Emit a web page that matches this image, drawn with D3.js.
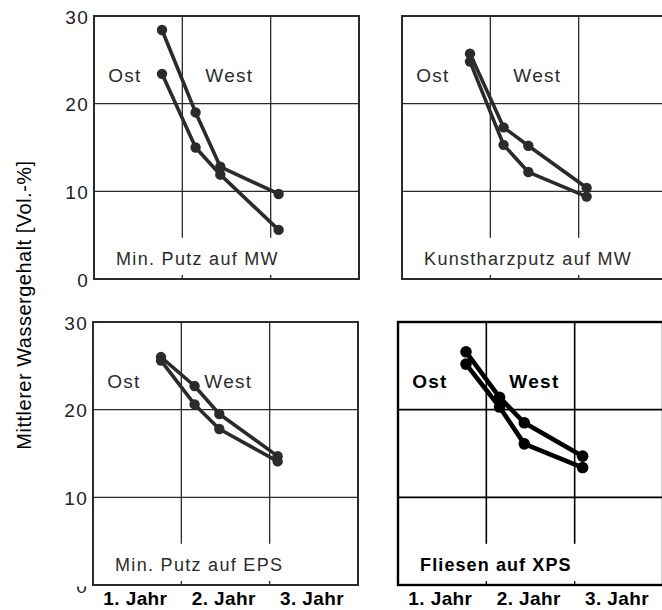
<!DOCTYPE html>
<html>
<head>
<meta charset="utf-8">
<script src="https://cdn.jsdelivr.net/npm/d3@7"></script>
<style>
  body { margin: 0; background: #fff; }
  svg { display: block; font-family: "Liberation Sans", Arial, sans-serif; }
</style>
</head>
<body>
<div class="plot"></div>
<script>
// measuring times (years after construction)
var years = [0.77, 1.15, 1.43, 2.09];

var titles = ["Min. Putz auf MW", "Kunstharzputz auf MW", "Min. Putz auf EPS", "Fliesen auf XPS"];

// upper / lower curve of every panel [Vol.-%]
var upperVals = [
  [28.4, 19.0, 12.8, 9.7],
  [25.7, 17.3, 15.2, 10.4],
  [26.0, 22.7, 19.5, 14.7],
  [26.6, 21.4, 18.5, 14.7]
];
var lowerVals = [
  [23.4, 15.0, 11.9, 5.6],
  [24.8, 15.3, 12.2, 9.4],
  [25.6, 20.6, 17.8, 14.1],
  [25.2, 20.3, 16.1, 13.4]
];

var yTicks = [0, 10, 20, 30];
var xLabels = ["1. Jahr", "2. Jahr", "3. Jahr"];
var xLabelPos = [0.48, 1.48, 2.48];
var sideLabels = ["Ost", "West"];

function plotPanels() {

  var width = 662;
  var height = 610;
  var pw = 265, ph = 263;

  // panel corners (scan is slightly skewed)
  var corners = [[94, 16], [402, 16], [93, 322], [398, 322]];

  var svg = d3.select(".plot").append("svg")
    .attr("width", width)
    .attr("height", height);

  // only the lower half of the bottom "0" survives in the scan
  svg.append("defs").append("clipPath")
    .attr("id", "zeroclip")
    .append("rect")
    .attr("x", -92).attr("y", ph + 1.5).attr("width", 92).attr("height", 10);

  var x = d3.scaleLinear().domain([0, 3]).range([0, pw]);
  var y = d3.scaleLinear().domain([0, 30]).range([ph, 0]);

  var line = d3.line()
    .x(function(d) { return x(d[0]); })
    .y(function(d) { return y(d[1]); });

  titles.forEach(function(title, i) {
    var bold = (i == 3);
    var ink = bold ? "#000" : "#2b2b2b";
    var g = svg.append("g")
      .attr("transform", "translate(" + corners[i] + ")");

    // horizontal grid
    g.selectAll(".hgrid")
      .data([10, 20])
      .join("line")
      .attr("x1", 0).attr("x2", pw)
      .attr("y1", d => y(d)).attr("y2", d => y(d))
      .attr("stroke", ink)
      .attr("stroke-width", bold ? 1.6 : 1.3);

    // vertical grid stops above the panel title
    g.selectAll(".vgrid")
      .data([1, 2])
      .join("line")
      .attr("x1", d => x(d)).attr("x2", d => x(d))
      .attr("y1", y(30)).attr("y2", y(4.7))
      .attr("stroke", ink)
      .attr("stroke-width", bold ? 1.6 : 1.3);

    g.selectAll(".btick")
      .data([1, 2])
      .join("line")
      .attr("x1", d => x(d)).attr("x2", d => x(d))
      .attr("y1", y(0)).attr("y2", y(0) - 4)
      .attr("stroke", ink)
      .attr("stroke-width", 1.3);

    g.append("rect")
      .attr("width", pw).attr("height", ph)
      .attr("fill", "none")
      .attr("stroke", ink)
      .attr("stroke-width", bold ? 2.4 : 2);

    [upperVals[i], lowerVals[i]].forEach(function(vals) {
      var pts = years.map((t, k) => [t, vals[k]]);
      g.append("path")
        .attr("d", line(pts))
        .attr("fill", "none")
        .attr("stroke", ink)
        .attr("stroke-width", bold ? 4.6 : 3.6)
        .attr("stroke-linejoin", "round");
      g.selectAll(null)
        .data(pts)
        .join("circle")
        .attr("cx", d => x(d[0]))
        .attr("cy", d => y(d[1]))
        .attr("r", bold ? 5.8 : 5.2)
        .attr("fill", ink);
    });

    // Ost / West
    g.selectAll(".side")
      .data(sideLabels)
      .join("text")
      .attr("x", (d, k) => k == 0 ? x(0.16) : x(1.26))
      .attr("y", y(22.5))
      .attr("fill", ink)
      .style("font-size", "19px")
      .style("letter-spacing", "1.3px")
      .style("font-weight", bold ? "bold" : "normal")
      .text(d => d);

    g.append("text")
      .attr("x", x(0.25))
      .attr("y", y(1.55))
      .attr("fill", ink)
      .style("font-size", "18px")
      .style("letter-spacing", bold ? "1.1px" : "1.3px")
      .style("font-weight", bold ? "bold" : "normal")
      .text(title);

    // y ticks on left panels
    if (i % 2 == 0) {
      g.selectAll(".ytick")
        .data(yTicks)
        .join("text")
        .attr("x", -5)
        .attr("y", d => y(d) + 7.5)
        .attr("text-anchor", "end")
        .attr("fill", "#222")
        .attr("clip-path", d => (i == 2 && d == 0) ? "url(#zeroclip)" : null)
        .style("font-size", "19px")
        .style("letter-spacing", "1.3px")
        .text(d => d);
    }

    // x labels on bottom panels
    if (i >= 2) {
      g.selectAll(".xlab")
        .data(xLabels)
        .join("text")
        .attr("x", (d, k) => x(xLabelPos[k]))
        .attr("y", ph + 20)
        .attr("text-anchor", "middle")
        .attr("fill", "#000")
        .style("font-size", "19px")
        .style("font-weight", "bold")
        .style("letter-spacing", "0.4px")
        .text(d => d);
    }
  });

  svg.append("text")
    .attr("transform", "translate(31,305) rotate(-90)")
    .attr("text-anchor", "middle")
    .attr("fill", "#000")
    .style("font-size", "20px")
    .style("letter-spacing", "0.5px")
    .text("Mittlerer Wassergehalt [Vol.-%]");
}

plotPanels();
</script>
</body>
</html>
